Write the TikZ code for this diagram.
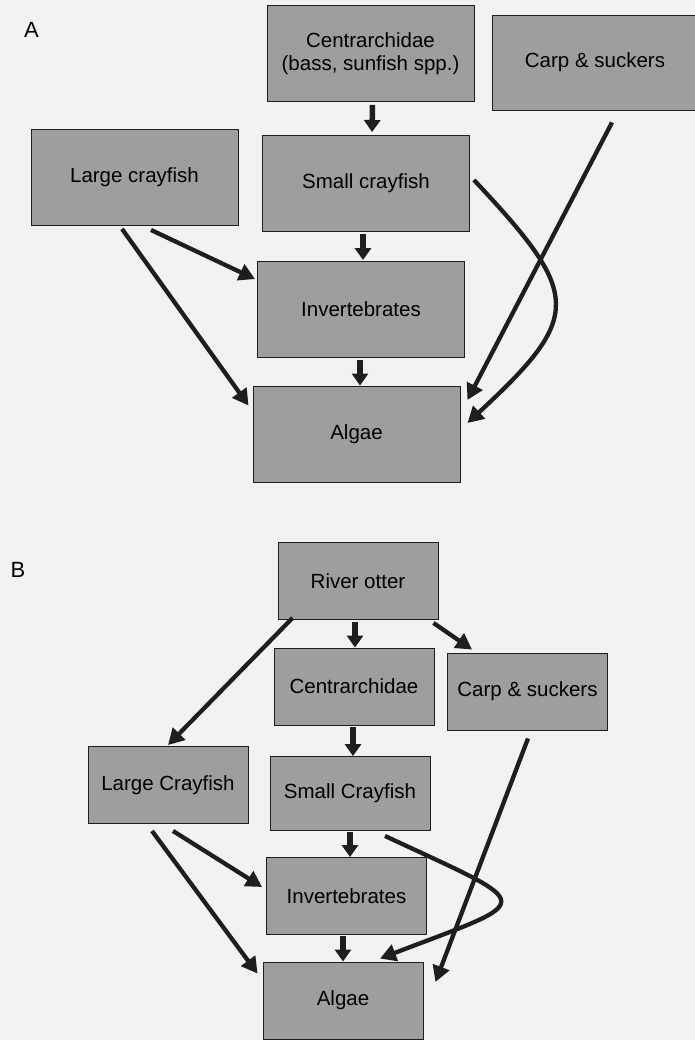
\documentclass[tikz,border=0pt]{standalone}
\usepackage{fontspec}
\setmainfont{Liberation Sans}
\usetikzlibrary{arrows.meta,calc}
\definecolor{boxgray}{RGB}{158,158,158}
\definecolor{bggray}{RGB}{242,242,242}
\definecolor{ink}{RGB}{30,30,30}
\begin{document}
\begin{tikzpicture}[x=1pt,y=-1pt,
  box/.style={draw=ink,line width=0.9pt,fill=boxgray,minimum width=207pt,minimum height=96pt,
    inner sep=0pt,font=\fontsize{20.5}{22.5}\selectfont,align=center},
  boxb/.style={box,minimum width=160pt,minimum height=77pt},
  varr/.style={draw=ink,line width=5.5pt,-{Triangle[length=12pt,width=16pt]}},
  darr/.style={draw=ink,line width=4.3pt,-{Triangle[length=16pt,width=17pt]}},
  lbl/.style={font=\fontsize{22}{26}\selectfont,inner sep=0pt}]
\fill[bggray] (0,0) rectangle (695,1040);
\useasboundingbox (0,0) rectangle (695,1040);
% panel labels
\node[lbl] (labA) at (31.5,30) {A};
\node[lbl] (labB) at (18,570) {B};
% panel A
\node[box] (centA) at (370.5,53.5) {Centrarchidae\\(bass, sunfish spp.)};
\node[box,minimum width=206pt,minimum height=95pt] (carpA) at (595,62.5) {Carp \& suckers};
\node[box] (largeA) at (134.5,177.5) {Large crayfish};
\node[box] (smallA) at (366,183.5) {Small crayfish};
\node[box] (invA) at (361,309.5) {Invertebrates};
\node[box] (algA) at (356.5,434) {Algae};
% panel B
\node[boxb] (otter) at (358,581) {River otter};
\node[boxb] (centB) at (354,686.5) {Centrarchidae};
\node[boxb] (carpB) at (527.5,691.5) {Carp \& suckers};
\node[boxb] (largeB) at (168,785) {Large Crayfish};
\node[boxb,minimum height=74pt] (smallB) at (350,793.5) {Small Crayfish};
\node[boxb] (invB) at (346.5,896) {Invertebrates};
\node[boxb] (algB) at (343,1000.5) {Algae};
% arrows A
\draw[varr] ($(centA.south)+(2,3)$) -- ($(smallA.north)+(6,-3)$);
\draw[varr] ($(smallA.south)+(-3,2.5)$) -- ($(invA.north)+(2,-1)$);
\draw[varr] ($(invA.south)+(-1,2)$) -- ($(algA.north)+(3.5,0)$);
\draw[darr] ($(largeA.south)+(16.5,4)$) -- ($(invA.north west)+(-2,18)$);
\draw[darr] ($(largeA.south)+(-12.5,3)$) -- ($(algA.north west)+(-4,20)$);
\draw[darr] ($(smallA.east)+(4,-3.5)$) .. controls (582,295) and (583,316) .. ($(algA.east)+(7,-11)$);
\draw[darr] ($(carpA.south)+(17,12)$) -- ($(algA.east)+(7,-34)$);
% arrows B
\draw[varr] ($(otter.south)+(-3,2)$) -- ($(centB.north)+(1,0)$);
\draw[darr] ($(otter.south west)+(15,-2)$) -- ($(largeB.north)+(0,-1)$);
\draw[darr] ($(otter.south east)+(-5,3)$) -- ($(carpB.north west)+(25,-3)$);
\draw[varr] ($(centB.south)+(-1,2)$) -- ($(smallB.north)+(3,0)$);
\draw[varr] ($(smallB.south)+(0,1)$) -- ($(invB.north)+(3.5,0)$);
\draw[varr] ($(invB.south)+(-3.5,1)$) -- ($(algB.north)+(0,0)$);
\draw[darr] ($(largeB.south)+(5,7)$) -- ($(invB.west)+(-4,-9)$);
\draw[darr] ($(largeB.south)+(-16,7)$) -- ($(algB.north west)+(-5,12)$);
\draw[darr] ($(smallB.south)+(35,5)$) .. controls (539,908) and (538,898) .. ($(algB.north)+(37,-3)$);
\draw[darr] ($(carpB.south)+(0.5,8)$) -- ($(algB.east)+(12,-18.5)$);
\end{tikzpicture}
\end{document}
